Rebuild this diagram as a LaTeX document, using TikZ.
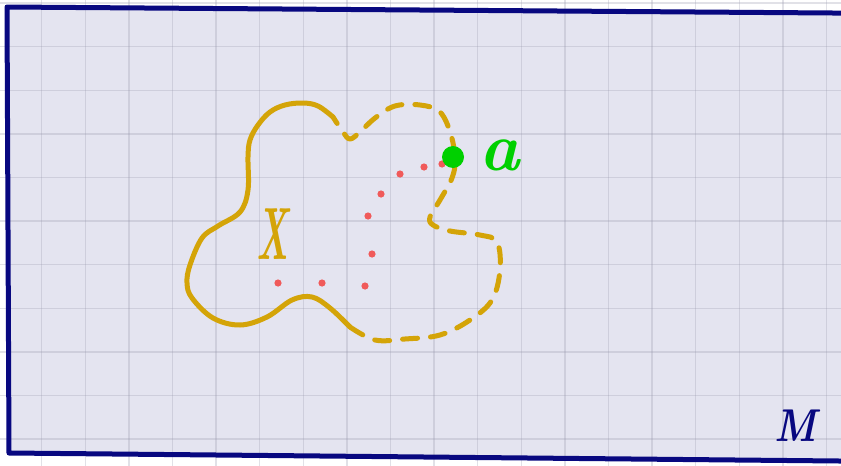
\documentclass[tikz,border=0pt]{standalone}
\usetikzlibrary{calc}
\definecolor{lav}{RGB}{228,228,240}
\definecolor{navy}{RGB}{8,8,128}
\definecolor{gold}{RGB}{212,164,8}
\definecolor{dotred}{RGB}{240,90,90}
\definecolor{ptgreen}{RGB}{0,208,0}
\definecolor{gridc}{RGB}{150,150,170}
\tikzset{
  gridline/.style={draw=gridc, opacity=0.28, line width=1.3pt},
  border/.style={draw=navy, line width=5pt, line join=round},
  blob/.style={draw=gold, line width=5pt, line cap=round, line join=round},
  blobdash/.style={blob, dash pattern=on 15pt off 13pt},
  reddot/.style={fill=dotred, draw=none},
  pointa/.style={circle, fill=ptgreen, draw=none, minimum size=22pt, inner sep=0pt},
  lbl/.style={inner sep=0pt, anchor=center}
}
\begin{document}
\begin{tikzpicture}[x=1pt,y=-1pt]
\useasboundingbox (0,0) rectangle (841,466);
\clip (0,0) rectangle (841,466);
\fill[white] (0,0) rectangle (841,466);
% sheet
\fill[lav] (7,7) -- (860,13.2) -- (860,461.2) -- (9,453) -- cycle;
% grid
\foreach \i in {0,...,18} {
  \draw[gridline] ({41.7+43.6*\i},0) -- ({41.7+43.6*\i},466);
}
\foreach \j in {0,...,10} {
  \draw[gridline] (0,{3.1+43.6*\j}) -- (841,{3.1+43.6*\j});
}
% border
\draw[border] (860,13.2) -- (7,7) -- (9,453) -- (860,461.2);
% blob, solid part
\draw[blob] plot[smooth, tension=0.6] coordinates {
 (333,117) (318,106) (303,103) (285,105) (270,112) (258,125) (250,140)
 (248,157) (248,190) (240,212) (218,226) (202,238) (190,265) (187,283)
 (192,298) (213,318) (240,325) (267,317) (292,300) (312,297) (330,308) (350,327)};
% blob, dashed part
\draw[blobdash] plot[smooth, tension=0.6] coordinates {
 (350,327) (375,340) (405,339) (440,335) (470,320) (492,300) (500,270)
 (497,242) (480,235) (450,231) (433,225) (430,217) (440,200) (452,178)
 (455,160) (451,135) (440,112) (420,105) (395,106) (375,118) (360,132)
 (350,139) (343,132) (333,117)};
% red dotted path
\foreach \px/\py in {278/283,322/283,365/286,372/254,368/216,381/194,400/174,424/167,442/164} {
  \fill[reddot] (\px,\py) circle (3.6);
}
% point a
\node[pointa] (a) at (453,157) {};
\node[lbl, text=ptgreen, font=\fontsize{68}{68}\selectfont\bfseries\itshape] (alabel) at (500,155) {a};
% X label
\node[lbl, text=gold, font=\fontsize{74}{74}\selectfont\bfseries\itshape, xscale=0.5, transform shape] (xlabel) at (273,234) {X};
% M label
\node[lbl, text=navy, font=\fontsize{46}{46}\selectfont\bfseries\itshape, xscale=0.85, transform shape] (mlabel) at (795,426) {M};
\end{tikzpicture}
\end{document}
